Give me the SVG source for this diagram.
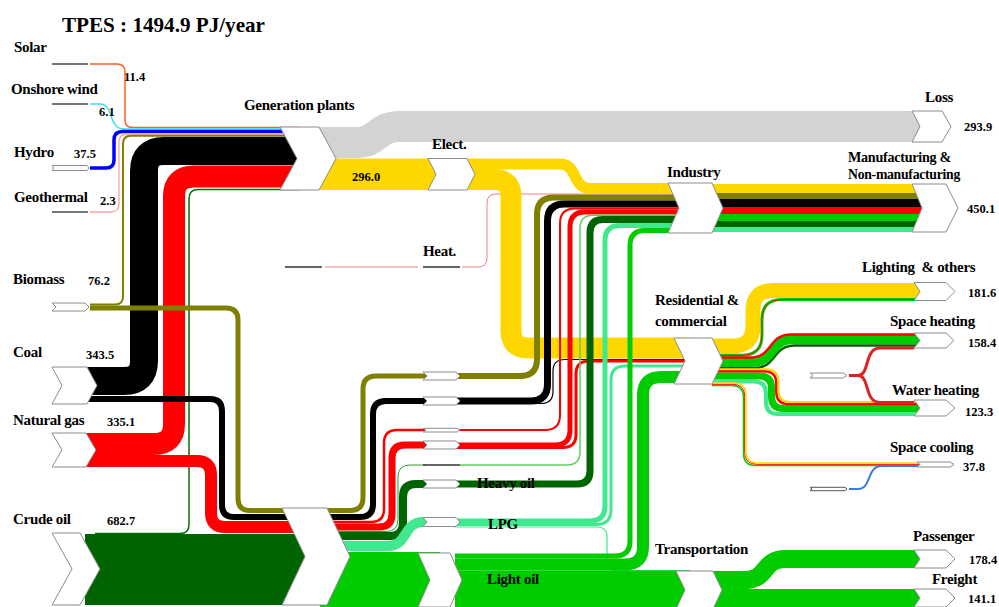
<svg xmlns="http://www.w3.org/2000/svg" width="999" height="607" viewBox="0 0 999 607">
<style>
.f{fill:none;stroke-linecap:butt;stroke-linejoin:round}
.n{fill:#fff;stroke:#8c8c8c;stroke-width:1}
.s{stroke:#777;stroke-width:2}
.lb{font-family:"Liberation Serif","Times New Roman",serif;font-weight:bold;font-size:15px;fill:#000;letter-spacing:-0.3px}
.v{font-family:"Liberation Serif","Times New Roman",serif;font-weight:bold;font-size:12.5px;fill:#000}
.gy{stroke:#d3d3d3}.yl{stroke:#ffd700}.ol{stroke:#808000}.bk{stroke:#000}.rd{stroke:#ff0000}
.dg{stroke:#006400}.bg{stroke:#00cc00}.lg{stroke:#40e890}.pk{stroke:#f08080}
</style>
<rect width="999" height="607" fill="#fff"/>
<text x="62" y="32" font-family="Liberation Serif,Times New Roman,serif" font-weight="bold" font-size="21" textLength="203" lengthAdjust="spacingAndGlyphs">TPES :  1494.9 PJ/year</text>
<g id="connectors">
<path class="f gy" stroke-width="31" d="M310,142.5 H355 C380,142.5 375,126.5 400,126.5 H930"/>
<rect x="310" y="158.5" width="130" height="31.5" fill="#ffd700"/>
<line x1="325" y1="267" x2="418" y2="267" class="pk" stroke-width="1"/>
<path class="f pk" stroke-width="1" d="M462,267 H478 Q487,267 487,258 V203 Q487,194 496,194 H690"/>
<path class="f yl" stroke-width="11" d="M465,164 H560 C578,164 572,188.5 590,188.5 H690"/>
<path class="f yl" stroke-width="21" d="M465,179.5 H494 Q511,179.5 511,196.5 V331 Q511,348 528,348 H690"/>
<path class="f" stroke="#ff6020" stroke-width="1.5" d="M90,64 H117 Q125,64 125,72 V120 Q125,127.5 132.5,127.5 H300"/>
<path class="f" stroke="#40e0e0" stroke-width="1.5" d="M90,104 H100 C114,104 108,129 124,129 H300"/>
<path class="f" stroke="#0000ff" stroke-width="3.5" d="M90,168 H106 Q114,168 114,160 V140 Q114,131.5 122.5,131.5 H300"/>
<path class="f" stroke="#ffa0a0" stroke-width="1.3" d="M90,212 H111 Q119,212 119,204 V142 Q119,134 127,134 H300"/>
<path class="f ol" stroke-width="2" d="M90,304.5 H115 Q123,304.5 123,296.5 V144 Q123,135.8 131,135.8 H300"/>
<path class="f bk" stroke-width="28" d="M85,381 H124 Q144,381 144,361 V171 Q144,151 164,151 H300"/>
<path class="f rd" stroke-width="22" d="M85,444 H154 Q174,444 174,424 V196.5 Q174,176.5 194,176.5 H300"/>
<path class="f" stroke="#007000" stroke-width="1.5" d="M95,533.5 H180 Q189,533.5 189,524.5 V198.5 Q189,189.5 198,189.5 H300"/>
<rect x="85" y="534" width="225" height="71" fill="#006400"/>
<path class="f rd" stroke-width="12" d="M85,461 H197 Q211,461 211,475 V513 Q211,527 225,527 H300"/>
<path class="f bk" stroke-width="6" d="M85,399 H210 Q222,399 222,411 V505 Q222,517 234,517 H300"/>
<path class="f ol" stroke-width="5" d="M90,308 H226 Q238,308 238,320 V498.5 Q238,510.5 250,510.5 H300"/>
<rect x="320" y="552" width="120" height="55" fill="#00cc00"/>
<path class="f ol" stroke-width="5" d="M320,510.5 H350 Q363,510.5 363,497.5 V389 Q363,376 376,376 H430"/>
<path class="f bk" stroke-width="6" d="M320,517 H360 Q373,517 373,504 V414 Q373,401 386,401 H430"/>
<path class="f rd" stroke-width="2.5" d="M320,522 H371 Q384,522 384,509 V443 Q384,430 397,430 H430"/>
<path class="f rd" stroke-width="7" d="M320,527 H379 Q392,527 392,514 V458 Q392,445 405,445 H430"/>
<path class="f" stroke="#339933" stroke-width="1" d="M320,531.5 H386 Q398,531.5 398,519.5 V477 Q398,465 410,465 H425"/>
<path class="f dg" stroke-width="8" d="M320,536 H390 Q403,536 403,523 V497 Q403,484 416,484 H430"/>
<path class="f lg" stroke-width="10" d="M320,546 H388 C408,546 403,522 423,522 H430"/>
<path class="f ol" stroke-width="6" d="M455,376 H520 Q537,376 537,359 V214.5 Q537,197.5 554,197.5 H690"/>
<path class="f bk" stroke-width="7" d="M455,401 H530.5 Q547.5,401 547.5,384 V221 Q547.5,204 564.5,204 H690"/>
<path class="f bk" stroke-width="1.2" d="M455,403.5 H541 Q553,403.5 553,391.5 V371 Q553,359.5 565,359.5 H690"/>
<path class="f rd" stroke-width="2" d="M455,430 H545 Q560,430 560,415 V223.5 Q560,208.5 575,208.5 H690"/>
<path class="f rd" stroke-width="5" d="M455,445 H555 Q570,445 570,430 V227 Q570,212 585,212 H690"/>
<path class="f rd" stroke-width="3" d="M455,447.5 H563 Q576,447.5 576,434.5 V374 Q576,361 589,361 H690"/>
<path class="f" stroke="#5fcf5f" stroke-width="1.5" d="M460,465 H567 Q580,465 580,452 V228.3 Q580,215.3 593,215.3 H690"/>
<path class="f dg" stroke-width="7" d="M455,484 H577 Q590,484 590,471 V232.5 Q590,219.5 603,219.5 H690"/>
<path class="f lg" stroke-width="5" d="M455,521 H590 Q605,521 605,506 V240.5 Q605,225.5 620,225.5 H690"/>
<path class="f lg" stroke-width="3" d="M455,524.5 H596 Q611,524.5 611,509.5 V380 Q611,366 625,366 H690"/>
<path class="f lg" stroke-width="1.2" d="M455,527 H597 Q607,527 607,537 V562 Q607,570.5 615,570.5 H690"/>
<path class="f bg" stroke-width="5" d="M455,556 H615 Q630,556 630,541 V245.5 Q630,230.5 645,230.5 H690"/>
<path class="f bg" stroke-width="12" d="M455,564.5 H625 Q643,564.5 643,546.5 V395 Q643,377 661,377 H690"/>
<rect x="455" y="570.5" width="235" height="37" fill="#00cc00"/>
<rect x="712" y="184" width="218" height="9" fill="#ffd700"/>
<rect x="712" y="193" width="218" height="6" fill="#808000"/>
<rect x="712" y="199" width="218" height="8" fill="#000"/>
<rect x="712" y="207" width="218" height="7" fill="#ff0000"/>
<rect x="712" y="214" width="218" height="7" fill="#00cc00"/>
<rect x="712" y="221" width="218" height="6" fill="#006400"/>
<rect x="712" y="227" width="218" height="5" fill="#40e890"/>
<path class="f yl" stroke-width="15" d="M712,346 H733 Q753,346 753,326 V310.5 Q753,290.5 773,290.5 H925"/>
<path class="f bg" stroke-width="3" d="M712,355.3 H742 Q762,355.3 762,335.3 V319.5 Q762,299.5 782,299.5 H925"/>
<path class="f rd" stroke-width="0.8" d="M712,355.3 H742 Q762,355.3 762,335.3 V319.5 Q762,299.5 782,299.5 H925"/>
<path class="f dg" stroke-width="2.5" d="M712,368 H754 C777,368 772,345.5 795,345.5 H925"/>
<path class="f bg" stroke-width="9" d="M712,362.5 H752 C775,362.5 770,339.5 793,339.5 H925"/>
<path class="f rd" stroke-width="2.5" d="M712,357.5 H750 C773,357.5 768,334.5 791,334.5 H925"/>
<path class="f lg" stroke-width="4" d="M712,381.5 H754 Q766,381.5 766,393.5 V402 Q766,414 778,414 H925"/>
<path class="f bg" stroke-width="7" d="M712,376 H759.5 Q771.5,376 771.5,388 V396.5 Q771.5,408.5 783.5,408.5 H925"/>
<path class="f rd" stroke-width="2.5" d="M712,371.3 H764 Q776.3,371.3 776.3,383.6 V391.7 Q776.3,404 788.6,404 H925"/>
<path class="f yl" stroke-width="2" d="M712,369.2 H766 Q778.5,369.2 778.5,381.7 V389.5 Q778.5,402 791,402 H925"/>
<path class="f bg" stroke-width="1.5" d="M712,385.5 H731.5 Q743.5,385.5 743.5,397.5 V453.5 Q743.5,465.5 755.5,465.5 H920"/>
<path class="f rd" stroke-width="1" d="M712,384.3 H732.7 Q744.7,384.3 744.7,396.3 V452.3 Q744.7,464.3 756.7,464.3 H920"/>
<path class="f yl" stroke-width="1.5" d="M712,383 H734 Q746,383 746,395 V451 Q746,463 758,463 H920"/>
<path class="f" stroke="#dd2222" stroke-width="3" d="M849,375.5 H858 C870,375.5 864,348 880,348 H914"/>
<path class="f" stroke="#dd2222" stroke-width="3" d="M849,375.5 H858 C870,375.5 864,402.5 880,402.5 H914"/>
<path class="f" stroke="#3a7be0" stroke-width="2" d="M849,489 H858 C872,489 866,466 882,466 H918"/>
<path class="f bg" stroke-width="18" d="M712,580 H745 C768,580 762,559 785,559 H925"/>
<rect x="712" y="589" width="213" height="18" fill="#00cc00"/>
</g>
<g id="node-solar"><line class="s" x1="52" y1="64" x2="88" y2="64"/><text class="lb" x="14" y="52">Solar</text><text class="v" x="124" y="81">11.4</text></g>
<g id="node-wind"><line class="s" x1="52" y1="104" x2="88" y2="104"/><text class="lb" x="11" y="94">Onshore wind</text><text class="v" x="99" y="116">6.1</text></g>
<g id="node-hydro"><polygon class="n" points="52,165.5 87,165.5 89,168 87,170.5 52,170.5 54,168"/><text class="lb" x="14" y="157">Hydro</text><text class="v" x="74" y="158">37.5</text></g>
<g id="node-geothermal"><line class="s" x1="52" y1="212" x2="88" y2="212"/><text class="lb" x="14" y="202">Geothermal</text><text class="v" x="100" y="205">2.3</text></g>
<g id="node-biomass"><polygon class="n" points="52,303 85,303 89,307 85,311 52,311 56,307"/><text class="lb" x="13" y="284">Biomass</text><text class="v" x="88" y="285">76.2</text></g>
<g id="node-coal"><polygon class="n" points="52,367 87,367 97,385.5 87,404 52,404 62,385.5"/><text class="lb" x="13" y="357">Coal</text><text class="v" x="86" y="359">343.5</text></g>
<g id="node-gas"><polygon class="n" points="52,433 86,433 96,450 86,467 52,467 62,450"/><text class="lb" x="13" y="425">Natural gas</text><text class="v" x="107" y="426">335.1</text></g>
<g id="node-crude"><polygon class="n" points="52,533 80,533 100,569 80,605 52,605 72,569"/><text class="lb" x="13" y="524">Crude oil</text><text class="v" x="107" y="525">682.7</text></g>
<g id="node-generation"><polygon class="n" points="280,127 319,127 336,158.5 319,190 280,190 297,158.5"/><text class="lb" x="244" y="110">Generation plants</text><text class="v" x="352" y="181">296.0</text></g>
<g id="node-elect"><polygon class="n" points="428,158.5 467,158.5 475,174.25 467,190 428,190 436,174.25"/><text class="lb" x="432" y="149">Elect.</text></g>
<g id="node-heat"><line x1="285" y1="267" x2="322" y2="267" stroke="#333" stroke-width="1.5"/><line x1="423" y1="267" x2="460" y2="267" stroke="#333" stroke-width="1.5"/><text class="lb" x="423" y="256">Heat.</text></g>
<g id="node-refinery"><polygon class="n" points="282,508 327,508 350,556.5 327,605 282,605 305,556.5"/></g>
<g id="node-biomass-conv"><polygon class="n" points="423,372 456,372 460,376 456,380 423,380 427,376"/></g>
<g id="node-coal-conv"><polygon class="n" points="423,397 456,397 460,401 456,405 423,405 427,401"/></g>
<g id="node-gas-conv1"><polygon class="n" points="423,428.3 457,428.3 460,430.2 457,432 423,432 426,430.2"/></g>
<g id="node-gas-conv2"><polygon class="n" points="423,441 456,441 460,445 456,449 423,449 427,445"/></g>
<g id="node-other-conv"><line x1="423" y1="465" x2="460" y2="465" stroke="#333" stroke-width="1.5"/></g>
<g id="node-heavy-oil"><polygon class="n" points="423,480 456,480 460,484 456,488 423,488 427,484"/><text class="lb" x="477" y="488">Heavy oil</text></g>
<g id="node-lpg"><polygon class="n" points="423,517.5 456,517.5 460,522 456,526.5 423,526.5 427,522"/><text class="lb" x="488" y="529">LPG</text></g>
<g id="node-light-oil"><polygon class="n" points="418,553 450,553 462,580 450,607 418,607 430,580"/><text class="lb" x="487" y="584">Light oil</text></g>
<g id="node-industry"><polygon class="n" points="668,183 712,183 723,208 712,233 668,233 679,208"/><text class="lb" x="667" y="177">Industry</text></g>
<g id="node-residential"><polygon class="n" points="674,338 712,338 723,361 712,384 674,384 685,361"/><text class="lb" x="655" y="305">Residential &amp;</text><text class="lb" x="655" y="326">commercial</text></g>
<g id="node-transportation"><polygon class="n" points="676,571 713,571 722,590 713,609 676,609 685,590"/><text class="lb" x="655" y="554">Transportation</text></g>
<g id="node-loss"><polygon class="n" points="912,111 942,111 951,126.5 942,142 912,142 920,126.5"/><text class="lb" x="925" y="102">Loss</text><text class="v" x="964" y="131">293.9</text></g>
<g id="node-manufacturing"><polygon class="n" points="912,184 946,184 958,208 946,232 912,232 922,208"/><text class="lb" x="848" y="162" font-size="14" textLength="103" lengthAdjust="spacingAndGlyphs">Manufacturing &amp;</text><text class="lb" x="848" y="179" font-size="14" textLength="112" lengthAdjust="spacingAndGlyphs">Non-manufacturing</text><text class="v" x="967" y="213">450.1</text></g>
<g id="node-lighting"><polygon class="n" points="914,282.5 946,282.5 955,291.5 946,300.5 914,300.5 920,291.5"/><text class="lb" x="862" y="272">Lighting&#160; &amp; others</text><text class="v" x="968" y="297">181.6</text></g>
<g id="node-space-heating"><polygon class="n" points="914,333 946,333 954,340.5 946,348 914,348 920,340.5"/><text class="lb" x="890" y="326">Space heating</text><text class="v" x="968" y="347">158.4</text></g>
<g id="node-heat-source"><polygon class="n" points="810,373 843,373 847,375.5 843,378 810,378 813,375.5"/></g>
<g id="node-water-heating"><polygon class="n" points="914,400 946,400 955,408 946,416 914,416 920,408"/><text class="lb" x="892" y="395">Water heating</text><text class="v" x="965" y="416">123.3</text></g>
<g id="node-space-cooling"><polygon class="n" points="917,462 950,462 954,464.5 950,467 917,467 920,464.5"/><text class="lb" x="890" y="452">Space cooling</text><text class="v" x="963" y="471">37.8</text></g>
<g id="node-cooling-source"><polygon fill="#fff" stroke="#555" stroke-width="1" points="810,487.3 845,487.3 847,489 845,490.7 810,490.7 812,489"/></g>
<g id="node-passenger"><polygon class="n" points="914,550 946,550 955,559 946,568 914,568 920,559"/><text class="lb" x="913" y="541">Passenger</text><text class="v" x="969" y="564">178.4</text></g>
<g id="node-freight"><polygon class="n" points="914,589 946,589 955,598 946,607 914,607 920,598"/><text class="lb" x="932" y="584">Freight</text><text class="v" x="968" y="603">141.1</text></g>
</svg>
